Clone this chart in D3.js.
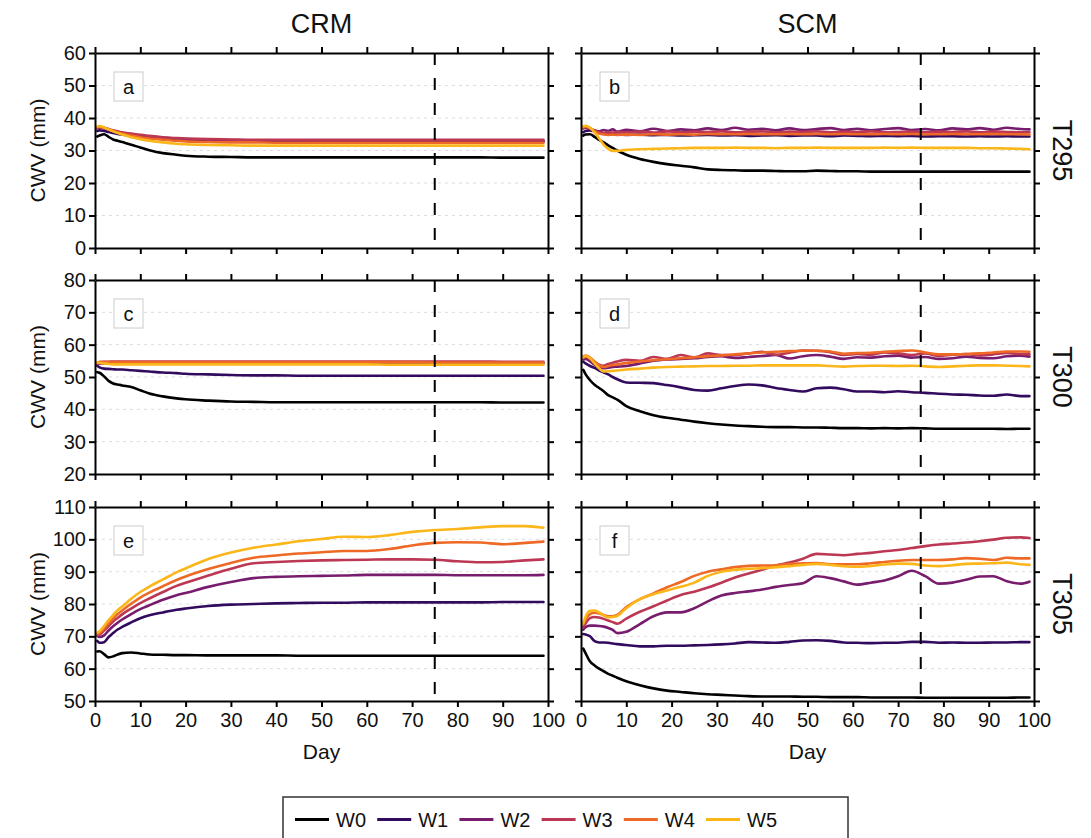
<!DOCTYPE html>
<html>
<head>
<meta charset="utf-8">
<script src="https://cdn.jsdelivr.net/npm/d3@7"></script>
<style>
  html, body { margin: 0; padding: 0; background: #fff; }
  svg { display: block; font-family: "Liberation Sans", Arial, Helvetica, sans-serif; }
</style>
</head>
<body>
<svg id="chart" width="1091" height="838"></svg>
<script>
// ---------------- DATA ----------------
const seriesNames = ["W0", "W1", "W2", "W3", "W4", "W5"];
const seriesColors = ["#000000", "#320a5e", "#781c6d", "#bc3754", "#ed6925", "#fbb61a"];
const colTitles = ["CRM", "SCM"];
const rowTitles = ["T295", "T300", "T305"];
const panelLetters = ["a", "b", "c", "d", "e", "f"];
const yDomains = [[0, 60], [20, 80], [50, 110]];
const xTickValues = [0, 10, 20, 30, 40, 50, 60, 70, 80, 90, 100];
const markerDay = 75;

// CRM day grid
const daysCRM = [0.5, 1, 2, 3, 4, 5, 6, 8, 10, 12, 15, 18, 20, 25, 30, 35, 40, 45, 50, 55, 60, 65, 70, 75, 80, 85, 90, 95, 99];
// SCM day grid
const daysSCM = [0.5, 1, 2, 3, 4, 5, 6, 7, 8, 10, 13, 16, 19, 22, 25, 28, 31, 34, 37, 40, 43, 46, 49, 52, 55, 58, 61, 64, 67, 70, 73, 76, 79, 82, 85, 88, 91, 94, 97, 99];

// Panel a: CRM T295
const a_W0 = [34.3, 34.6, 35.0, 34.2, 33.4, 33.0, 32.6, 31.8, 30.9, 30.1, 29.2, 28.7, 28.4, 28.1, 28.0, 27.9, 27.9, 27.9, 27.9, 27.9, 27.9, 27.9, 27.9, 27.9, 27.9, 27.9, 27.8, 27.8, 27.8];
const a_W1 = [36.0, 36.2, 36.0, 35.7, 35.4, 35.1, 34.9, 34.5, 34.2, 33.9, 33.6, 33.4, 33.2, 33.0, 32.9, 32.8, 32.8, 32.8, 32.7, 32.7, 32.7, 32.7, 32.7, 32.7, 32.7, 32.7, 32.7, 32.7, 32.7];
const a_W2 = [36.8, 37.0, 36.8, 36.4, 36.0, 35.7, 35.4, 35.0, 34.6, 34.3, 33.9, 33.6, 33.5, 33.3, 33.2, 33.1, 33.1, 33.1, 33.0, 33.0, 33.0, 33.0, 33.0, 33.0, 33.0, 33.0, 33.0, 33.0, 33.0];
const a_W3 = [37.0, 37.2, 37.0, 36.6, 36.2, 35.9, 35.6, 35.2, 34.8, 34.5, 34.1, 33.8, 33.7, 33.5, 33.4, 33.3, 33.3, 33.3, 33.3, 33.3, 33.3, 33.3, 33.3, 33.3, 33.3, 33.3, 33.3, 33.3, 33.3];
const a_W4 = [37.2, 37.3, 37.0, 36.5, 36.0, 35.6, 35.2, 34.6, 34.1, 33.7, 33.3, 33.0, 32.8, 32.6, 32.5, 32.5, 32.4, 32.4, 32.4, 32.4, 32.4, 32.4, 32.4, 32.4, 32.4, 32.4, 32.4, 32.4, 32.4];
const a_W5 = [37.4, 37.5, 37.1, 36.5, 35.9, 35.4, 34.9, 34.1, 33.5, 33.0, 32.5, 32.1, 31.9, 31.7, 31.6, 31.5, 31.5, 31.5, 31.5, 31.5, 31.5, 31.5, 31.5, 31.5, 31.5, 31.5, 31.5, 31.5, 31.5];

// Panel b: SCM T295
const b_W0 = [34.6, 34.9, 35.0, 34.2, 33.3, 32.5, 31.6, 30.8, 30.0, 28.7, 27.4, 26.5, 25.8, 25.3, 24.8, 24.2, 24.0, 23.9, 23.8, 23.8, 23.7, 23.6, 23.6, 23.8, 23.7, 23.6, 23.6, 23.5, 23.5, 23.5, 23.5, 23.5, 23.5, 23.5, 23.5, 23.5, 23.5, 23.5, 23.5, 23.5];
const b_W1 = [35.6, 36.0, 36.2, 35.9, 35.6, 35.3, 35.1, 35.0, 34.9, 34.8, 34.9, 34.7, 34.8, 34.6, 34.7, 34.8, 34.6, 34.7, 34.5, 34.6, 34.7, 34.5, 34.6, 34.6, 34.4, 34.6, 34.5, 34.4, 34.5, 34.4, 34.5, 34.3, 34.4, 34.4, 34.3, 34.4, 34.3, 34.4, 34.3, 34.3];
const b_W2 = [36.8, 37.0, 36.6, 36.2, 35.9, 36.3, 36.0, 36.5, 35.8, 36.4, 35.9, 36.7, 36.0, 36.5, 36.2, 36.8, 36.3, 37.0, 36.4, 36.7, 36.2, 36.8, 36.3, 36.6, 36.9, 36.3, 36.7, 36.2, 36.6, 36.9, 36.3, 36.6, 36.2, 36.8, 36.5, 36.9, 36.4, 37.0, 36.6, 36.5];
const b_W3 = [36.9, 37.2, 36.8, 36.0, 35.6, 35.4, 35.6, 35.5, 35.7, 35.6, 35.8, 35.5, 35.9, 35.6, 35.8, 35.7, 35.9, 35.6, 35.8, 35.9, 35.6, 35.8, 35.7, 35.9, 35.6, 35.8, 35.7, 35.9, 35.6, 35.7, 35.8, 35.6, 35.8, 35.7, 35.9, 35.6, 35.8, 35.7, 35.6, 35.6];
const b_W4 = [37.2, 37.4, 36.9, 35.9, 35.2, 34.9, 34.8, 34.9, 34.8, 34.9, 34.8, 35.0, 34.9, 35.0, 34.9, 35.1, 35.0, 35.0, 35.1, 35.0, 35.0, 35.1, 35.0, 35.1, 35.0, 35.1, 35.0, 35.0, 35.1, 35.0, 35.1, 35.0, 35.0, 35.1, 35.0, 35.0, 35.1, 35.0, 35.0, 34.9];
const b_W5 = [37.4, 37.6, 37.0, 35.6, 33.7, 31.8, 30.5, 29.9, 29.9, 30.2, 30.4, 30.5, 30.6, 30.7, 30.8, 30.8, 30.8, 30.9, 30.8, 30.8, 30.7, 30.8, 30.8, 30.9, 30.8, 30.8, 30.8, 30.8, 30.9, 30.8, 30.9, 30.8, 30.8, 30.8, 30.8, 30.7, 30.7, 30.6, 30.5, 30.4];

// Panel c: CRM T300
const c_W0 = [51.5, 51.3, 50.2, 48.8, 48.0, 47.7, 47.4, 46.9, 45.9, 44.9, 44.0, 43.4, 43.1, 42.7, 42.4, 42.3, 42.2, 42.2, 42.2, 42.2, 42.2, 42.2, 42.2, 42.2, 42.2, 42.2, 42.1, 42.1, 42.1];
const c_W1 = [53.5, 53.0, 52.6, 52.5, 52.4, 52.3, 52.3, 52.1, 51.9, 51.7, 51.4, 51.2, 51.0, 50.8, 50.6, 50.5, 50.5, 50.4, 50.4, 50.4, 50.4, 50.4, 50.4, 50.4, 50.4, 50.4, 50.4, 50.4, 50.4];
const c_W2 = [54.0, 54.2, 54.2, 54.2, 54.2, 54.2, 54.3, 54.3, 54.3, 54.3, 54.3, 54.3, 54.3, 54.3, 54.3, 54.3, 54.3, 54.3, 54.3, 54.3, 54.3, 54.3, 54.3, 54.3, 54.3, 54.3, 54.3, 54.3, 54.3];
const c_W3 = [54.2, 54.6, 54.7, 54.7, 54.8, 54.8, 54.8, 54.8, 54.8, 54.8, 54.8, 54.8, 54.8, 54.8, 54.8, 54.8, 54.8, 54.8, 54.8, 54.8, 54.8, 54.8, 54.8, 54.8, 54.8, 54.8, 54.7, 54.7, 54.7];
const c_W4 = [54.3, 54.6, 54.6, 54.6, 54.6, 54.6, 54.6, 54.6, 54.6, 54.6, 54.6, 54.6, 54.6, 54.6, 54.6, 54.6, 54.6, 54.6, 54.6, 54.6, 54.6, 54.6, 54.6, 54.5, 54.5, 54.5, 54.5, 54.5, 54.5];
const c_W5 = [54.6, 54.4, 54.2, 54.0, 53.9, 53.9, 53.9, 53.9, 53.9, 53.9, 53.9, 53.9, 53.9, 53.9, 53.9, 53.9, 53.9, 53.9, 53.9, 53.9, 53.9, 53.8, 53.8, 53.8, 53.8, 53.8, 53.8, 53.8, 53.8];

// Panel d: SCM T300
const d_W0 = [52.2, 50.9, 49.0, 47.6, 46.6, 45.6, 44.4, 43.7, 43.0, 41.0, 39.4, 38.2, 37.4, 36.8, 36.2, 35.7, 35.3, 35.0, 34.8, 34.6, 34.5, 34.5, 34.4, 34.4, 34.3, 34.2, 34.2, 34.1, 34.2, 34.1, 34.2, 34.1, 34.0, 34.0, 34.0, 34.0, 34.0, 33.9, 34.0, 34.0];
const d_W1 = [54.7, 54.2, 53.4, 52.8, 52.0, 51.4, 50.8, 50.0, 49.3, 48.3, 48.2, 48.1, 47.5, 46.8, 46.0, 45.8, 46.5, 47.2, 47.7, 47.4, 46.6, 46.0, 45.5, 46.5, 46.7, 46.2, 45.5, 45.5, 45.3, 45.6, 45.3, 45.1, 44.8, 44.6, 44.5, 44.3, 44.2, 44.6, 44.1, 44.1];
const d_W2 = [55.4, 55.6, 54.8, 53.8, 53.0, 52.7, 52.9, 53.1, 53.2, 53.4, 54.2, 55.0, 55.4, 55.6, 55.8, 56.2, 56.4, 55.9, 56.2, 56.5, 56.8, 55.7, 56.4, 56.8, 56.3, 55.6, 56.1, 56.0, 56.4, 56.6, 56.0, 56.2, 55.6, 55.8, 56.3, 55.9, 55.8, 56.4, 56.6, 56.3];
const d_W3 = [55.8, 56.2, 55.6, 54.5, 53.8, 53.5, 54.0, 54.4, 54.8, 55.3, 55.0, 56.2, 55.6, 56.8, 56.1, 57.3, 56.8, 56.8, 57.3, 57.8, 56.9, 57.5, 58.2, 58.1, 57.7, 56.8, 57.1, 56.9, 57.6, 57.3, 56.8, 57.3, 56.5, 56.9, 57.1, 56.7, 57.0, 57.4, 57.1, 57.0];
const d_W4 = [56.3, 56.6, 56.0, 54.8, 53.6, 53.1, 53.4, 53.7, 53.9, 54.3, 54.8, 55.2, 55.5, 55.8, 56.1, 56.4, 56.7, 57.0, 57.3, 57.6, 57.8, 58.0, 58.1, 58.1, 57.9, 57.2, 57.4, 57.5, 57.8, 58.0, 58.2, 57.6, 57.0, 57.0, 57.1, 57.3, 57.6, 57.9, 57.9, 57.8];
const d_W5 = [56.1, 56.5, 55.8, 54.2, 52.7, 51.7, 51.8, 51.9, 52.0, 52.3, 52.6, 52.9, 53.1, 53.2, 53.3, 53.4, 53.4, 53.5, 53.5, 53.6, 53.6, 53.6, 53.6, 53.6, 53.4, 53.2, 53.4, 53.5, 53.5, 53.4, 53.5, 53.3, 53.1, 53.3, 53.5, 53.6, 53.6, 53.5, 53.4, 53.3];

// Panel e: CRM T305
const e_W0 = [65.3, 65.4, 64.5, 63.5, 63.8, 64.4, 64.8, 65.0, 64.7, 64.4, 64.3, 64.2, 64.2, 64.1, 64.1, 64.1, 64.1, 64.0, 64.0, 64.0, 64.0, 64.0, 64.0, 64.0, 64.0, 64.0, 64.0, 64.0, 64.0];
const e_W1 = [68.6, 68.0, 68.2, 69.8, 71.0, 72.1, 72.9, 74.3, 75.6, 76.5, 77.4, 78.2, 78.6, 79.4, 79.8, 80.0, 80.2, 80.3, 80.4, 80.4, 80.5, 80.5, 80.5, 80.5, 80.5, 80.5, 80.6, 80.6, 80.6];
const e_W2 = [70.2, 69.8, 70.3, 71.8, 73.1, 74.2, 75.2, 76.9, 78.4, 79.6, 81.3, 82.7, 83.4, 85.3, 86.8, 88.0, 88.4, 88.6, 88.7, 88.8, 89.0, 89.0, 89.0, 89.0, 88.9, 88.9, 88.9, 88.9, 89.0];
const e_W3 = [70.5, 70.6, 71.8, 73.2, 74.6, 75.7, 76.8, 78.6, 80.3, 81.7, 83.7, 85.6, 86.6, 88.8, 90.9, 92.6, 93.0, 93.3, 93.5, 93.6, 93.7, 93.8, 93.8, 93.7, 93.2, 92.9, 93.0, 93.5, 93.8];
const e_W4 = [70.7, 71.0, 72.4, 74.0, 75.5, 76.9, 78.0, 80.1, 82.0, 83.5, 85.5, 87.4, 88.5, 90.8, 92.7, 94.3, 95.0, 95.6, 96.0, 96.4, 96.4, 97.0, 98.1, 98.9, 99.1, 99.0, 98.5, 98.9, 99.3];
const e_W5 = [71.2, 71.6, 73.2, 75.0, 76.6, 78.1, 79.2, 81.6, 83.7, 85.4, 87.6, 89.8, 91.0, 93.9, 95.9, 97.4, 98.4, 99.4, 100.1, 100.8, 100.7, 101.3, 102.3, 102.9, 103.2, 103.7, 104.1, 104.1, 103.6];

// Panel f: SCM T305
const f_W0 = [66.2, 64.8, 62.2, 61.0, 60.0, 59.2, 58.4, 57.8, 57.2, 56.1, 54.9, 53.9, 53.2, 52.8, 52.4, 52.1, 51.9, 51.7, 51.5, 51.4, 51.4, 51.4, 51.3, 51.3, 51.2, 51.2, 51.2, 51.1, 51.1, 51.1, 51.1, 51.0, 51.0, 51.0, 51.0, 51.0, 51.0, 51.0, 51.1, 51.1];
const f_W1 = [70.7, 70.6, 70.0, 68.5, 68.1, 68.1, 68.0, 67.8, 67.6, 67.3, 66.9, 66.9, 67.1, 67.1, 67.2, 67.3, 67.5, 67.8, 68.2, 68.1, 68.0, 68.3, 68.7, 68.8, 68.6, 68.1, 68.0, 67.9, 68.0, 68.0, 68.3, 68.3, 68.0, 68.1, 68.0, 68.0, 68.1, 68.1, 68.2, 68.2];
const f_W2 = [72.1, 72.8, 73.3, 73.3, 73.2, 73.0, 72.6, 72.0, 71.0, 71.4, 73.8, 76.2, 77.4, 77.4, 78.7, 80.8, 82.6, 83.4, 83.9, 84.5, 85.3, 85.9, 86.4, 88.6, 88.0, 87.0, 86.0, 86.6, 87.3, 88.6, 90.3, 88.6, 86.3, 86.6, 87.5, 88.5, 88.6, 87.0, 86.3, 86.9];
const f_W3 = [72.9, 74.0, 75.6, 76.0, 75.8, 75.4, 74.9, 74.4, 73.9, 75.5, 77.6, 79.3, 81.1, 82.8, 83.8, 85.1, 86.6, 88.2, 89.4, 90.6, 91.9, 92.8, 94.0, 95.5, 95.3, 95.1, 95.5, 95.8, 96.3, 96.7, 97.3, 97.9, 98.4, 98.7, 99.0, 99.4, 99.9, 100.5, 100.6, 100.4];
const f_W4 = [73.8, 75.2, 76.9, 77.3, 77.1, 76.6, 76.2, 76.2, 76.6, 79.1, 81.5, 83.3, 85.2, 86.8, 88.7, 90.0, 90.7, 91.4, 91.8, 91.9, 92.0, 92.4, 92.6, 92.7, 92.3, 92.3, 92.3, 92.6, 93.0, 93.4, 93.6, 93.6, 93.6, 93.8, 94.2, 94.0, 93.6, 94.3, 94.1, 94.1];
const f_W5 = [74.0, 76.0, 77.9, 78.0, 77.4, 76.5, 75.9, 76.0, 76.3, 78.7, 81.5, 83.0, 84.2, 85.3, 86.6, 88.7, 90.0, 90.6, 90.9, 91.1, 91.4, 91.7, 92.1, 92.4, 92.1, 91.7, 91.5, 91.8, 92.2, 92.5, 92.4, 91.9, 91.7, 92.0, 92.4, 92.5, 92.6, 92.8, 92.3, 92.1];

const panelData = [
  { days: daysCRM, values: [a_W0, a_W1, a_W2, a_W3, a_W4, a_W5] },
  { days: daysSCM, values: [b_W0, b_W1, b_W2, b_W3, b_W4, b_W5] },
  { days: daysCRM, values: [c_W0, c_W1, c_W2, c_W3, c_W4, c_W5] },
  { days: daysSCM, values: [d_W0, d_W1, d_W2, d_W3, d_W4, d_W5] },
  { days: daysCRM, values: [e_W0, e_W1, e_W2, e_W3, e_W4, e_W5] },
  { days: daysSCM, values: [f_W0, f_W1, f_W2, f_W3, f_W4, f_W5] }
];

// ---------------- LAYOUT ----------------
const colX = [[95, 548], [581, 1034]];
const rowY = [[53, 248], [280, 474], [507, 701]];
const tickFont = 20;

const svg = d3.select("#chart");
svg.append("rect").attr("width", 1091).attr("height", 838).attr("fill", "#fff");

function styleAxis(g, showLabels) {
  g.selectAll("path.domain").attr("stroke", "#000").attr("stroke-width", 2);
  g.selectAll(".tick line").attr("stroke", "#000").attr("stroke-width", 2);
  g.selectAll(".tick text")
    .attr("font-size", tickFont)
    .attr("fill", "#111")
    .style("display", showLabels ? null : "none");
  g.attr("font-family", null);
}

for (let r = 0; r < 3; r++) {
  for (let c = 0; c < 2; c++) {
    const idx = r * 2 + c;
    const pd = panelData[idx];
    const x = d3.scaleLinear().domain([0, 100]).range(colX[c]);
    const y = d3.scaleLinear().domain(yDomains[r]).range([rowY[r][1], rowY[r][0]]);
    const yTicks = d3.range(yDomains[r][0], yDomains[r][1] + 1, 10);
    const g = svg.append("g");

    const clipId = "clip" + idx;
    svg.append("clipPath").attr("id", clipId).append("rect")
      .attr("x", colX[c][0]).attr("y", rowY[r][0])
      .attr("width", colX[c][1] - colX[c][0]).attr("height", rowY[r][1] - rowY[r][0]);

    // grid lines
    g.append("g").selectAll("line")
      .data(yTicks.slice(1, -1))
      .join("line")
      .attr("x1", colX[c][0]).attr("x2", colX[c][1])
      .attr("y1", d => y(d)).attr("y2", d => y(d))
      .attr("stroke", "#dcdcdc").attr("stroke-width", 1)
      .attr("stroke-dasharray", "3,4");

    // series lines
    const lg = g.append("g").attr("clip-path", `url(#${clipId})`);
    pd.values.forEach((vals, si) => {
      const pts = pd.days.map((d, i) => [d, vals[i]]);
      const line = d3.line().x(p => x(p[0])).y(p => y(p[1])).curve(d3.curveMonotoneX);
      lg.append("path")
        .attr("d", line(pts))
        .attr("fill", "none")
        .attr("stroke", seriesColors[si])
        .attr("stroke-width", 2.6)
        .attr("stroke-linejoin", "round")
        .attr("stroke-linecap", "round");
    });

    // vertical dashed marker
    g.append("line")
      .attr("x1", x(markerDay)).attr("x2", x(markerDay))
      .attr("y1", rowY[r][0]).attr("y2", rowY[r][1])
      .attr("stroke", "#000").attr("stroke-width", 2)
      .attr("stroke-dasharray", "12,13");

    // axes
    const axL = g.append("g").attr("transform", `translate(${colX[c][0]},0)`)
      .call(d3.axisLeft(y).tickValues(yTicks).tickSize(6).tickSizeOuter(0).tickPadding(3));
    styleAxis(axL, c === 0);
    const axR = g.append("g").attr("transform", `translate(${colX[c][1]},0)`)
      .call(d3.axisRight(y).tickValues(yTicks).tickSize(6).tickSizeOuter(0));
    styleAxis(axR, false);
    const axT = g.append("g").attr("transform", `translate(0,${rowY[r][0]})`)
      .call(d3.axisTop(x).tickValues(xTickValues).tickSize(6).tickSizeOuter(0));
    styleAxis(axT, false);
    const axB = g.append("g").attr("transform", `translate(0,${rowY[r][1]})`)
      .call(d3.axisBottom(x).tickValues(xTickValues).tickSize(6).tickSizeOuter(0).tickPadding(6));
    styleAxis(axB, r === 2);

    // panel letter box
    const bx = colX[c][0] + 19, by = rowY[r][0] + 19;
    g.append("rect").attr("x", bx).attr("y", by).attr("width", 29).attr("height", 29)
      .attr("fill", "#fff").attr("stroke", "#cccccc").attr("stroke-width", 1);
    g.append("text").attr("x", bx + 14.5).attr("y", by + 15)
      .attr("text-anchor", "middle").attr("dominant-baseline", "central")
      .attr("font-size", 20).attr("fill", "#111").text(panelLetters[idx]);

    if (c === 0) {
      const cy = (rowY[r][0] + rowY[r][1]) / 2;
      g.append("text")
        .attr("transform", `translate(37,${cy}) rotate(-90)`)
        .attr("text-anchor", "middle").attr("dominant-baseline", "central")
        .attr("font-size", 21).attr("fill", "#111").text("CWV (mm)");
    }
    if (r === 2) {
      g.append("text")
        .attr("x", (colX[c][0] + colX[c][1]) / 2).attr("y", 751)
        .attr("text-anchor", "middle").attr("dominant-baseline", "central")
        .attr("font-size", 21).attr("fill", "#111").text("Day");
    }
  }
}

colTitles.forEach((t, c) => {
  svg.append("text")
    .attr("x", (colX[c][0] + colX[c][1]) / 2).attr("y", 24)
    .attr("text-anchor", "middle").attr("dominant-baseline", "central")
    .attr("font-size", 27).attr("fill", "#111").text(t);
});
rowTitles.forEach((t, r) => {
  const cy = (rowY[r][0] + rowY[r][1]) / 2;
  svg.append("text")
    .attr("transform", `translate(1062,${cy}) rotate(90)`)
    .attr("text-anchor", "middle").attr("dominant-baseline", "central")
    .attr("font-size", 27).attr("fill", "#111").text(t);
});

// legend
const leg = svg.append("g");
leg.append("rect").attr("x", 283).attr("y", 797).attr("width", 565).attr("height", 50)
  .attr("fill", "#fff").attr("stroke", "#333").attr("stroke-width", 1.5);
seriesNames.forEach((name, i) => {
  const x0 = 295 + i * 82.2;
  leg.append("line").attr("x1", x0).attr("x2", x0 + 34).attr("y1", 819.5).attr("y2", 819.5)
    .attr("stroke", seriesColors[i]).attr("stroke-width", 3);
  leg.append("text").attr("x", x0 + 41).attr("y", 820)
    .attr("dominant-baseline", "central").attr("font-size", 20).attr("fill", "#111").text(name);
});
</script>
</body>
</html>
